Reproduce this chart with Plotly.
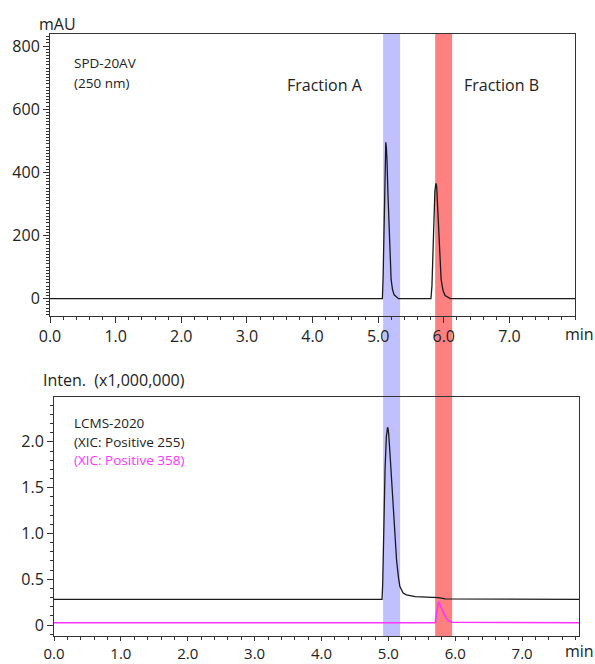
import plotly.graph_objects as go

# ---------------- data ----------------
# UV detector (SPD-20AV, 250 nm), mAU vs min
uv_time = [0.0, 5.065, 5.075, 5.087, 5.10, 5.11, 5.117, 5.125, 5.135, 5.15, 5.168, 5.185, 5.198, 5.22, 5.244, 5.31,
           5.805, 5.82, 5.835, 5.85, 5.865, 5.877, 5.884, 5.892, 5.90, 5.915, 5.93, 5.945, 5.96, 5.99, 6.02, 6.10, 8.0]
uv_mau = [0, 0, 60, 218, 400, 475, 495, 480, 440, 330, 218, 110, 60, 28, 12, 0,
          0, 40, 150, 260, 340, 360, 365, 355, 320, 270, 200, 120, 60, 25, 10, 0, 0]

# LCMS-2020 XIC Positive 255 (x1,000,000)
xic255_time = [0.0, 4.905, 4.915, 4.93, 4.95, 4.97, 4.98, 4.988, 4.996, 5.005, 5.03, 5.05, 5.072, 5.10, 5.122,
               5.15, 5.172, 5.22, 5.27, 5.40, 5.75, 5.85, 7.85]
xic255_int = [0.28, 0.28, 0.45, 1.05, 1.70, 2.06, 2.14, 2.16, 2.14, 2.08, 1.80, 1.55, 1.26, 0.95, 0.71,
              0.52, 0.42, 0.35, 0.33, 0.31, 0.30, 0.285, 0.28]

# LCMS-2020 XIC Positive 358 (x1,000,000)
xic358_time = [0.0, 5.70, 5.715, 5.73, 5.742, 5.75, 5.76, 5.77, 5.80, 5.83, 5.86, 5.90, 5.95, 7.85]
xic358_int = [0.025, 0.025, 0.09, 0.20, 0.24, 0.248, 0.24, 0.225, 0.17, 0.12, 0.08, 0.045, 0.03, 0.025]

# fraction windows (min, on the UV time axis)
fraction_names = ["Fraction A", "Fraction B"]
fraction_start = [5.076, 5.869]
fraction_end = [5.335, 6.128]

x_tickvals = [0, 1, 2, 3, 4, 5, 6, 7]
x_ticktext = ["0.0", "1.0", "2.0", "3.0", "4.0", "5.0", "6.0", "7.0"]
uv_tickvals = [0, 200, 400, 600, 800]
uv_ticktext = ["0", "200", "400", "600", "800"]
ms_tickvals = [0, 0.5, 1.0, 1.5, 2.0]
ms_ticktext = ["0", "0.5", "1.0", "1.5", "2.0"]

# ---------------- figure ----------------
W, H = 595, 664
FONT = "Open Sans"
TXT = "#222222"
AX = "#333333"


def px_x(p):
    return p / W


def px_y(p):
    return 1 - p / H


fig = go.Figure()
fig.add_trace(go.Scatter(x=uv_time, y=uv_mau, mode="lines",
                         line=dict(color="#1a1a1a", width=1.3),
                         xaxis="x", yaxis="y", showlegend=False))
fig.add_trace(go.Scatter(x=xic255_time, y=xic255_int, mode="lines",
                         line=dict(color="#1a1a1a", width=1.3),
                         xaxis="x2", yaxis="y2", showlegend=False))
fig.add_trace(go.Scatter(x=xic358_time, y=xic358_int, mode="lines",
                         line=dict(color="#ff33ff", width=1.6),
                         xaxis="x2", yaxis="y2", showlegend=False))

band_colors = ["#c0c0ff", "#ff8080"]
for s, e, c in zip(fraction_start, fraction_end, band_colors):
    fig.add_shape(type="rect", xref="x", yref="paper", x0=s, x1=e,
                  y0=px_y(636), y1=px_y(34), fillcolor=c, line=dict(width=0),
                  layer="below")

common_axis = dict(showline=True, linecolor=AX, linewidth=1, mirror=True,
                   showgrid=False, zeroline=False, ticks="outside",
                   tickcolor=AX, tickwidth=1, automargin=False,
                   tickfont=dict(family=FONT, size=16, color=TXT))

fig.update_layout(
    width=W, height=H,
    margin=dict(l=0, r=0, t=0, b=0),
    paper_bgcolor="white", plot_bgcolor="rgba(0,0,0,0)",
    template="none",
    xaxis=dict(domain=[px_x(50), px_x(575)], range=[0, 8.0], anchor="y",
               tickvals=x_tickvals, ticktext=x_ticktext, ticklen=6,
               minor=dict(dtick=0.2, tick0=0, ticklen=3, ticks="outside",
                          tickcolor=AX),
               **common_axis),
    yaxis=dict(domain=[px_y(316), px_y(34)], range=[-55, 838], anchor="x",
               tickvals=uv_tickvals, ticktext=uv_ticktext, ticklen=6,
               minor=dict(dtick=10, tick0=0, ticklen=3, ticks="outside",
                          tickcolor=AX),
               **common_axis),
    xaxis2=dict(domain=[px_x(54), px_x(579)], range=[0, 7.85], anchor="y2",
                tickvals=x_tickvals, ticktext=x_ticktext, ticklen=4,
                minor=dict(dtick=0.2, tick0=0, ticklen=3, ticks="outside",
                           tickcolor=AX),
                **common_axis),
    yaxis2=dict(domain=[px_y(636), px_y(397)], range=[-0.12, 2.49], anchor="x2",
                tickvals=ms_tickvals, ticktext=ms_ticktext, ticklen=6,
                minor=dict(dtick=0.1, tick0=0, ticklen=3, ticks="outside",
                           tickcolor=AX),
                **common_axis),
)
fig.update_xaxes(selector=dict(anchor="y2"), tickfont=dict(family=FONT, size=15, color=TXT))

ann = [
    dict(text="mAU", x=px_x(37), y=px_y(24), xanchor="left", size=16, color=TXT),
    dict(text="min", x=px_x(563), y=px_y(334), xanchor="left", size=16, color=TXT),
    dict(text="SPD-20AV", x=px_x(72), y=px_y(63), xanchor="left", size=13.5, color=TXT),
    dict(text="(250 nm)", x=px_x(72), y=px_y(83), xanchor="left", size=13.5, color=TXT),
    dict(text=fraction_names[0], x=px_x(325), y=px_y(85), xanchor="center", size=16, color=TXT),
    dict(text=fraction_names[1], x=px_x(501), y=px_y(85), xanchor="center", size=16, color=TXT),
    dict(text="Inten.  (x1,000,000)", x=px_x(41), y=px_y(380), xanchor="left", size=16, color=TXT),
    dict(text="LCMS-2020", x=px_x(72), y=px_y(423), xanchor="left", size=13.5, color=TXT),
    dict(text="(XIC: Positive 255)", x=px_x(72), y=px_y(442), xanchor="left", size=13.5, color=TXT),
    dict(text="(XIC: Positive 358)", x=px_x(72), y=px_y(460), xanchor="left", size=13.5, color="#ff33ff"),
    dict(text="min", x=px_x(563), y=px_y(651), xanchor="left", size=16, color=TXT),
]
for a in ann:
    fig.add_annotation(text=a["text"], x=a["x"], y=a["y"], xref="paper", yref="paper",
                       xanchor=a["xanchor"], yanchor="middle", showarrow=False,
                       font=dict(family=FONT, size=a["size"], color=a["color"]))

fig.write_html("out.html",
               config={"displayModeBar": False},
               post_script="document.body.style.margin='0';"
                           "document.body.style.overflow='hidden';")
